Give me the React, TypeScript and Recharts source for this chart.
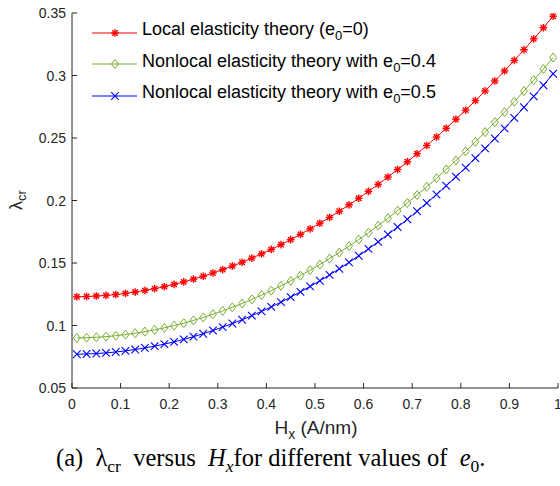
import { Line, LineChart, XAxis, YAxis } from "recharts";

// H_x sample points (A/nm)
const hx = [
  0.01, 0.03, 0.05, 0.07, 0.09, 0.11, 0.13, 0.15, 0.17, 0.19,
  0.21, 0.23, 0.25, 0.27, 0.29, 0.31, 0.33, 0.35, 0.37, 0.39,
  0.41, 0.43, 0.45, 0.47, 0.49, 0.51, 0.53, 0.55, 0.57, 0.59,
  0.61, 0.63, 0.65, 0.67, 0.69, 0.71, 0.73, 0.75, 0.77, 0.79,
  0.81, 0.83, 0.85, 0.87, 0.89, 0.91, 0.93, 0.95, 0.97, 0.99,
];

// local elasticity theory (e0 = 0)
const localE0 = [
  0.123, 0.1232, 0.1236, 0.1241, 0.1248, 0.1257, 0.1268, 0.1281, 0.1295, 0.1311,
  0.1329, 0.1349, 0.1371, 0.1394, 0.142, 0.1447, 0.1476, 0.1506, 0.1539, 0.1573,
  0.1609, 0.1647, 0.1687, 0.1729, 0.1773, 0.1818, 0.1865, 0.1914, 0.1965, 0.2018,
  0.2073, 0.2129, 0.2188, 0.2248, 0.231, 0.2374, 0.244, 0.2508, 0.2578, 0.265,
  0.2723, 0.2799, 0.2877, 0.2956, 0.3037, 0.3121, 0.3206, 0.3293, 0.3382, 0.3474,
];

// nonlocal, e0 = 0.4
const nonlocalE04 = [
  0.09, 0.0902, 0.0906, 0.0911, 0.0918, 0.0927, 0.0938, 0.0951, 0.0965, 0.0981,
  0.0999, 0.1019, 0.1041, 0.1064, 0.109, 0.1117, 0.1146, 0.1176, 0.1209, 0.1243,
  0.1279, 0.1317, 0.1357, 0.1399, 0.1443, 0.1488, 0.1535, 0.1584, 0.1635, 0.1688,
  0.1743, 0.1799, 0.1858, 0.1918, 0.198, 0.2044, 0.211, 0.2178, 0.2248, 0.232,
  0.2393, 0.2469, 0.2547, 0.2626, 0.2707, 0.2791, 0.2876, 0.2963, 0.3052, 0.3144,
];

// nonlocal, e0 = 0.5
const nonlocalE05 = [
  0.077, 0.0772, 0.0776, 0.0781, 0.0788, 0.0797, 0.0808, 0.0821, 0.0835, 0.0851,
  0.0869, 0.0889, 0.0911, 0.0934, 0.096, 0.0987, 0.1016, 0.1046, 0.1079, 0.1113,
  0.1149, 0.1187, 0.1227, 0.1269, 0.1313, 0.1358, 0.1405, 0.1454, 0.1505, 0.1558,
  0.1613, 0.1669, 0.1728, 0.1788, 0.185, 0.1914, 0.198, 0.2048, 0.2118, 0.219,
  0.2263, 0.2339, 0.2417, 0.2496, 0.2577, 0.2661, 0.2746, 0.2833, 0.2922, 0.3014,
];

const xTicks = [0, 0.1, 0.2, 0.3, 0.4, 0.5, 0.6, 0.7, 0.8, 0.9, 1];
const xTickLabels = ["0", "0.1", "0.2", "0.3", "0.4", "0.5", "0.6", "0.7", "0.8", "0.9", "1"];
const yTicks = [0.05, 0.1, 0.15, 0.2, 0.25, 0.3, 0.35];
const yTickLabels = ["0.05", "0.1", "0.15", "0.2", "0.25", "0.3", "0.35"];

const data = hx.map((h, i) => ({
  h,
  local: localE0[i],
  e04: nonlocalE04[i],
  e05: nonlocalE05[i],
}));

const RED = "#ff0000";
const GREEN = "#77ac30";
const BLUE = "#0000ff";
const AXIS = "#262626";
const FONT = "'Liberation Sans', Arial, sans-serif";

const labelFor = (v: number, ticks: number[], labels: string[]) => {
  const i = ticks.findIndex((t) => Math.abs(t - v) < 1e-9);
  return i >= 0 ? labels[i] : String(v);
};

function StarMark({ cx, cy, color }: { cx: number; cy: number; color: string }) {
  const r = 3.8;
  const d = r * 0.72;
  return (
    <g stroke={color} strokeWidth={1.4}>
      <line x1={cx - r} y1={cy} x2={cx + r} y2={cy} />
      <line x1={cx} y1={cy - r} x2={cx} y2={cy + r} />
      <line x1={cx - d} y1={cy - d} x2={cx + d} y2={cy + d} />
      <line x1={cx - d} y1={cy + d} x2={cx + d} y2={cy - d} />
    </g>
  );
}

function DiamondMark({ cx, cy, color }: { cx: number; cy: number; color: string }) {
  return (
    <path
      d={`M${cx},${cy - 4.5} L${cx + 3.5},${cy} L${cx},${cy + 4.5} L${cx - 3.5},${cy} Z`}
      fill="none"
      stroke={color}
      strokeWidth={1}
    />
  );
}

function CrossMark({ cx, cy, color }: { cx: number; cy: number; color: string }) {
  const r = 3.8;
  return (
    <g stroke={color} strokeWidth={1.1}>
      <line x1={cx - r} y1={cy - r} x2={cx + r} y2={cy + r} />
      <line x1={cx - r} y1={cy + r} x2={cx + r} y2={cy - r} />
    </g>
  );
}

const XTick = (props: any) => {
  const { x, y, payload } = props;
  return (
    <g>
      <line x1={x} y1={y} x2={x} y2={y - 5} stroke={AXIS} strokeWidth={1} />
      <text x={x} y={y + 21} textAnchor="middle" fill={AXIS} fontSize={14} fontFamily={FONT}>
        {labelFor(payload.value, xTicks, xTickLabels)}
      </text>
    </g>
  );
};

const YTick = (props: any) => {
  const { x, y, payload } = props;
  return (
    <g>
      <line x1={x} y1={y} x2={x + 5} y2={y} stroke={AXIS} strokeWidth={1} />
      <text x={x - 6} y={y + 5} textAnchor="end" fill={AXIS} fontSize={14} fontFamily={FONT}>
        {labelFor(payload.value, yTicks, yTickLabels)}
      </text>
    </g>
  );
};

const legendItems = [
  { color: RED, Mark: StarMark, text: "Local elasticity theory (e", tail: "=0)" },
  { color: GREEN, Mark: DiamondMark, text: "Nonlocal elasticity theory with e", tail: "=0.4" },
  { color: BLUE, Mark: CrossMark, text: "Nonlocal elasticity theory with e", tail: "=0.5" },
];

export default function App() {
  return (
    <div
      style={{
        position: "absolute",
        left: 0,
        top: 0,
        width: 560,
        height: 486,
        background: "#fff",
        overflow: "hidden",
      }}
    >
      <LineChart
        width={560}
        height={486}
        data={data}
        margin={{ top: 13, right: 2, bottom: 0, left: 0 }}
      >
        <XAxis
          type="number"
          dataKey="h"
          domain={[0, 1]}
          ticks={xTicks}
          height={98}
          stroke={AXIS}
          tickSize={0}
          tickMargin={0}
          tickLine={false}
          tick={XTick}
          interval={0}
          allowDataOverflow
        />
        <YAxis
          type="number"
          domain={[0.05, 0.35]}
          ticks={yTicks}
          width={72}
          stroke={AXIS}
          tickSize={0}
          tickMargin={0}
          tickLine={false}
          tick={YTick}
          interval={0}
          allowDataOverflow
        />
        <Line
          dataKey="local"
          stroke={RED}
          strokeWidth={1}
          isAnimationActive={false}
          dot={(p: any) => <StarMark key={`r${p.index}`} cx={p.cx} cy={p.cy} color={RED} />}
        />
        <Line
          dataKey="e04"
          stroke={GREEN}
          strokeWidth={1}
          isAnimationActive={false}
          dot={(p: any) => <DiamondMark key={`g${p.index}`} cx={p.cx} cy={p.cy} color={GREEN} />}
        />
        <Line
          dataKey="e05"
          stroke={BLUE}
          strokeWidth={1}
          isAnimationActive={false}
          dot={(p: any) => <CrossMark key={`b${p.index}`} cx={p.cx} cy={p.cy} color={BLUE} />}
        />
      </LineChart>

      {/* legend */}
      <div style={{ position: "absolute", left: 92, top: 17, fontFamily: FONT, fontSize: 18, color: "#000" }}>
        {legendItems.map(({ color, Mark, text, tail }, i) => (
          <div key={i} style={{ display: "flex", alignItems: "center", height: 31.5 }}>
            <svg width={46} height={14} style={{ marginRight: 4 }}>
              <line x1={0} y1={7} x2={45} y2={7} stroke={color} strokeWidth={1} />
              <Mark cx={23} cy={7} color={color} />
            </svg>
            <span style={{ whiteSpace: "nowrap", lineHeight: "20px" }}>
              {text}
              <sub style={{ fontSize: 13 }}>0</sub>
              {tail}
            </span>
          </div>
        ))}
      </div>

      {/* y axis label */}
      <div
        style={{
          position: "absolute",
          left: 19,
          top: 200,
          transform: "translate(-50%, -50%) rotate(-90deg)",
          fontFamily: FONT,
          fontSize: 18,
          color: AXIS,
          whiteSpace: "nowrap",
          lineHeight: "20px",
        }}
      >
        λ<sub style={{ fontSize: 13 }}>cr</sub>
      </div>

      {/* x axis label */}
      <div
        style={{
          position: "absolute",
          left: 316,
          top: 418,
          transform: "translateX(-50%)",
          fontFamily: FONT,
          fontSize: 19,
          color: AXIS,
          whiteSpace: "nowrap",
          lineHeight: "20px",
        }}
      >
        H<sub style={{ fontSize: 14 }}>x</sub> (A/nm)
      </div>

      {/* caption */}
      <div
        style={{
          position: "absolute",
          left: 56,
          top: 443,
          fontFamily: "'Liberation Serif', 'Times New Roman', serif",
          fontSize: 24.5,
          color: "#000",
          whiteSpace: "nowrap",
          lineHeight: "29px",
        }}
      >
        (a)&nbsp; λ<sub style={{ fontSize: 17.5 }}>cr</sub>&nbsp; versus&nbsp; <i>H<sub style={{ fontSize: 17.5 }}>x</sub></i>for
        different values of&nbsp; <i>e</i>
        <sub style={{ fontSize: 17.5 }}>0</sub>.
      </div>
    </div>
  );
}
